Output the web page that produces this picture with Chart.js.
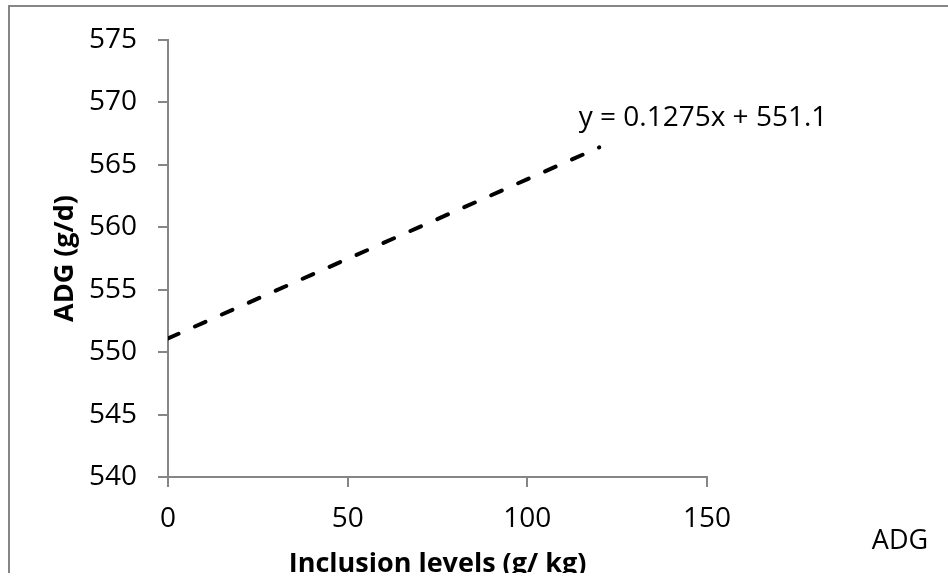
<!DOCTYPE html>
<html>
<head>
<meta charset="utf-8">
<script src="https://cdn.jsdelivr.net/npm/chart.js@4/dist/chart.umd.min.js"></script>
<style>
  html, body { margin: 0; padding: 0; background: #fff; }
  #wrap { width: 948px; height: 573px; overflow: hidden; }
  canvas { display: block; }
</style>
</head>
<body>
<div id="wrap"><canvas id="c" width="948" height="573"></canvas></div>
<script>
// Data (linear trendline of ADG)
const trendX = [0, 120];
const trendY = [551.1, 566.4];
const seriesName = 'ADG';
const equationText = 'y = 0.1275x + 551.1';
const xTickValues = [0, 50, 100, 150];
const yTickValues = [540, 545, 550, 555, 560, 565, 570, 575];
const xTitle = 'Inclusion levels (g/ kg)';
const yTitle = 'ADG (g/d)';

const FONT = "'Open Sans', 'Noto Sans', sans-serif";
const AXIS_GREY = '#868686';

const framePlugin = {
  id: 'frame',
  beforeDraw(chart) {
    const ctx = chart.ctx;
    ctx.save();
    ctx.fillStyle = '#fff';
    ctx.fillRect(0, 0, chart.width, chart.height);
    ctx.strokeStyle = AXIS_GREY;
    ctx.lineWidth = 2;
    ctx.strokeRect(9, 6, 3000, 3000);
    ctx.restore();
  }
};

const textPlugin = {
  id: 'texts',
  afterDraw(chart) {
    const ctx = chart.ctx;
    ctx.save();
    ctx.fillStyle = '#000';
    ctx.textAlign = 'center';
    ctx.textBaseline = 'middle';
    ctx.font = `28px ${FONT}`;
    ctx.fillText(equationText, 703, 118);
    ctx.font = `27px ${FONT}`;
    ctx.fillText(seriesName, 900, 541);
    ctx.restore();
  }
};

new Chart(document.getElementById('c'), {
  type: 'scatter',
  data: {
    datasets: [{
      label: seriesName,
      data: trendX.map((x, i) => ({ x: x, y: trendY[i] })),
      showLine: true,
      borderColor: '#000',
      borderWidth: 4,
      borderDash: [11.5, 17.96],
      borderCapStyle: 'round',
      pointRadius: 0,
      pointHoverRadius: 0,
      fill: false
    }]
  },
  options: {
    responsive: false,
    animation: false,
    layout: { padding: { left: 10, top: 40, right: 241, bottom: 0 } },
    plugins: { legend: { display: false }, tooltip: { enabled: false } },
    scales: {
      x: {
        type: 'linear',
        min: 0, max: 150,
        afterBuildTicks(scale) { scale.ticks = xTickValues.map(v => ({ value: v })); },
        afterFit(scale) { scale.height = 96; },
        grid: { drawOnChartArea: false, drawTicks: true, tickLength: 10, color: AXIS_GREY, lineWidth: 2 },
        border: { color: AXIS_GREY, width: 2 },
        ticks: { color: '#000', font: { family: FONT, size: 28 }, padding: 15, maxRotation: 0 },
        title: { display: true, text: xTitle, color: '#000', font: { family: FONT, size: 27, weight: 'bold' }, padding: { top: 0, bottom: -8 } }
      },
      y: {
        type: 'linear',
        min: 540, max: 575,
        afterBuildTicks(scale) { scale.ticks = yTickValues.map(v => ({ value: v })); },
        afterFit(scale) { scale.width = 158; },
        grid: { drawOnChartArea: false, drawTicks: true, tickLength: 10, color: AXIS_GREY, lineWidth: 2 },
        border: { color: AXIS_GREY, width: 2 },
        ticks: { color: '#000', font: { family: FONT, size: 28 }, padding: 21 },
        title: { display: true, text: yTitle, color: '#000', font: { family: FONT, size: 27, weight: 'bold' }, padding: { top: 39, bottom: 0 } }
      }
    }
  },
  plugins: [framePlugin, textPlugin]
});
</script>
</body>
</html>
